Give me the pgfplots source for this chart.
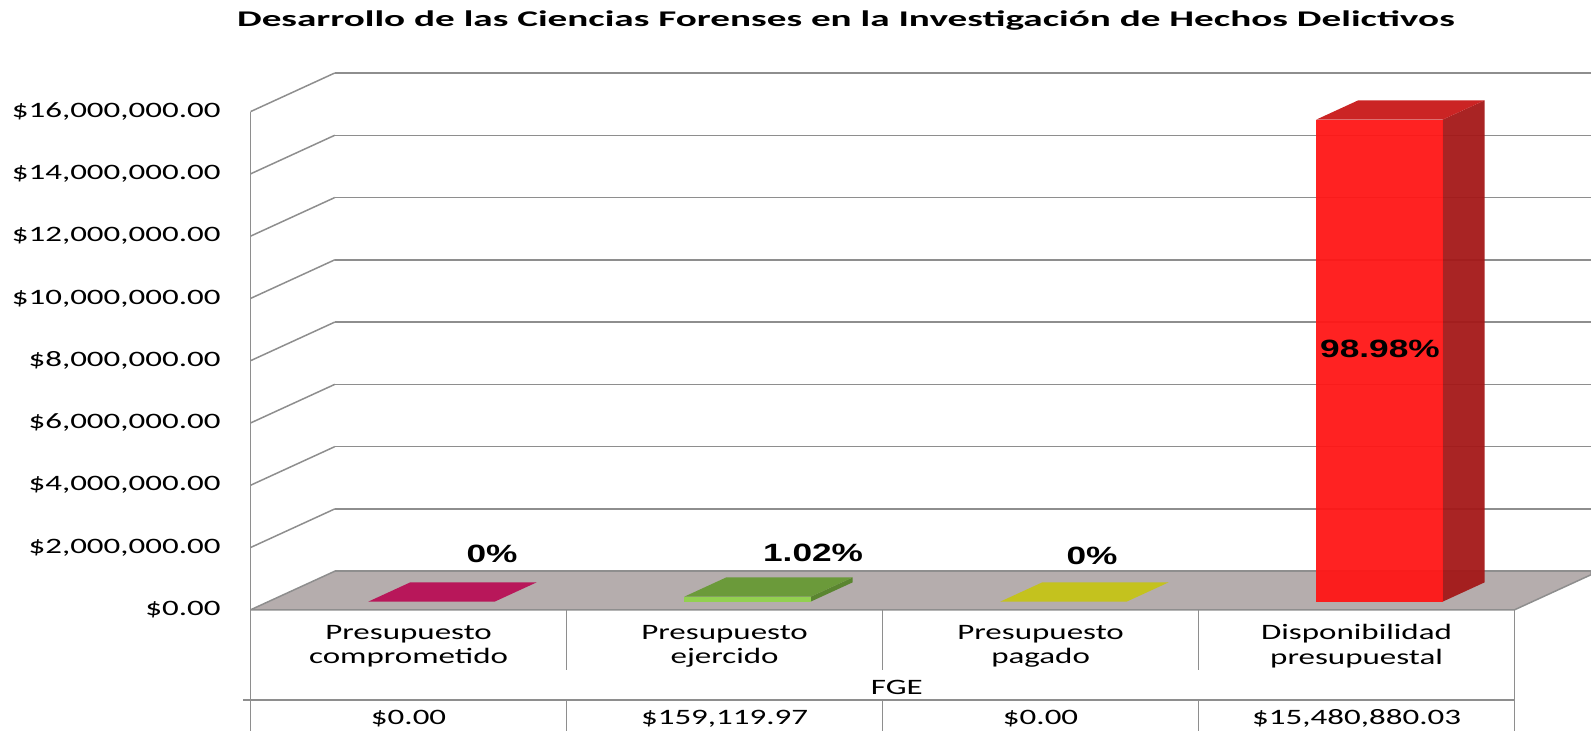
\documentclass[border=0pt]{standalone}
\usepackage{fontspec}
\usepackage{pgfplots}
\pgfplotsset{compat=1.18}
\setmainfont{Carlito}[FakeStretch=1.5]
\newfontfamily\titlefont{Carlito}[FakeStretch=1.75]
\newfontfamily\pctfont{Liberation Sans}[FakeStretch=1.41]
\definecolor{gridc}{HTML}{8E8E8E}
\definecolor{floorc}{HTML}{B5ADAD}
\definecolor{magc}{HTML}{B8175A}
\definecolor{yelc}{HTML}{C4C21E}
\definecolor{grnTop}{HTML}{6B9A3A}
\definecolor{grnFront}{HTML}{92D050}
\definecolor{grnSide}{HTML}{5A8530}
\definecolor{redFront}{HTML}{FF1616}
\definecolor{redSide}{HTML}{A41818}
\definecolor{redTop}{HTML}{C81818}
\begin{document}
\begin{tikzpicture}
\begin{axis}[
  scale only axis, width=632pt, height=249.1pt,
  xmin=0, xmax=4, ymin=0, ymax=16000000,
  clip=false,
  axis lines=left,
  axis line style={draw=none,-},
  xtick=\empty,
  ytick={0,2000000,4000000,6000000,8000000,10000000,12000000,14000000,16000000},
  yticklabels={{\$0.00},{\$2,000,000.00},{\$4,000,000.00},{\$6,000,000.00},{\$8,000,000.00},{\$10,000,000.00},{\$12,000,000.00},{\$14,000,000.00},{\$16,000,000.00}},
  scaled y ticks=false,
  major tick length=0pt,
  ytick style={draw=none},
  yticklabel style={anchor=east, inner sep=0pt, xshift=-14.8pt, font=\fontsize{11}{13}\selectfont},
]
% back wall grid lines
\addplot[gridc, line width=0.75pt] coordinates {(0.2665,1240000) (4.2418,1240000)};
\addplot[gridc, line width=0.75pt] coordinates {(0.2665,3240000) (4.2418,3240000)};
\addplot[gridc, line width=0.75pt] coordinates {(0.2665,5240000) (4.2418,5240000)};
\addplot[gridc, line width=0.75pt] coordinates {(0.2665,7240000) (4.2418,7240000)};
\addplot[gridc, line width=0.75pt] coordinates {(0.2665,9240000) (4.2418,9240000)};
\addplot[gridc, line width=0.75pt] coordinates {(0.2665,11240000) (4.2418,11240000)};
\addplot[gridc, line width=0.75pt] coordinates {(0.2665,13240000) (4.2418,13240000)};
\addplot[gridc, line width=0.75pt] coordinates {(0.2665,15240000) (4.2418,15240000)};
\addplot[gridc, line width=0.75pt] coordinates {(0.2665,17240000) (4.2418,17240000)};
% side wall lines
\addplot[gridc, line width=0.75pt] coordinates {(0,2000000) (0.2665,3240000)};
\addplot[gridc, line width=0.75pt] coordinates {(0,4000000) (0.2665,5240000)};
\addplot[gridc, line width=0.75pt] coordinates {(0,6000000) (0.2665,7240000)};
\addplot[gridc, line width=0.75pt] coordinates {(0,8000000) (0.2665,9240000)};
\addplot[gridc, line width=0.75pt] coordinates {(0,10000000) (0.2665,11240000)};
\addplot[gridc, line width=0.75pt] coordinates {(0,12000000) (0.2665,13240000)};
\addplot[gridc, line width=0.75pt] coordinates {(0,14000000) (0.2665,15240000)};
\addplot[gridc, line width=0.75pt] coordinates {(0,16000000) (0.2665,17240000)};
% floor
\addplot[fill=floorc, draw=gridc, line width=0.75pt] coordinates {(0,0) (4,0) (4.2418,1125000) (4.2418,1240000) (0.2665,1240000) (0,0)};
% bar 1: Presupuesto comprometido, 0
\addplot[fill=magc, draw=none] coordinates {(0.372,260000) (0.772,260000) (0.905,880000) (0.505,880000)};
% bar 2: Presupuesto ejercido, 159119.97
\addplot[fill=grnSide, draw=none] coordinates {(1.772,260000) (1.905,880000) (1.905,1039119.97) (1.772,419119.97)};
\addplot[fill=grnTop, draw=none] coordinates {(1.372,419119.97) (1.772,419119.97) (1.905,1039119.97) (1.505,1039119.97)};
\addplot[fill=grnFront, draw=none] coordinates {(1.372,260000) (1.772,260000) (1.772,419119.97) (1.372,419119.97)};
% bar 3: Presupuesto pagado, 0
\addplot[fill=yelc, draw=none] coordinates {(2.372,260000) (2.772,260000) (2.905,880000) (2.505,880000)};
% bar 4: Disponibilidad presupuestal, 15480880.03
\addplot[fill=redSide, draw=none, fill opacity=0.95] coordinates {(3.772,260000) (3.905,880000) (3.905,16360880.03) (3.772,15740880.03)};
\addplot[fill=redTop, draw=none, fill opacity=0.95] coordinates {(3.372,15740880.03) (3.772,15740880.03) (3.905,16360880.03) (3.505,16360880.03)};
\addplot[fill=redFront, draw=none, fill opacity=0.95] coordinates {(3.372,260000) (3.772,260000) (3.772,15740880.03) (3.372,15740880.03)};
% front y axis and table
\draw[gridc, line width=0.75pt] (axis cs:0,16000000) -- ([yshift=-62pt]axis cs:0,0);
\draw[gridc, line width=0.75pt] (axis cs:4,0) -- ([yshift=-62pt]axis cs:4,0);
\draw[gridc, line width=0.75pt] (axis cs:1,0) -- ([yshift=-30pt]axis cs:1,0);
\draw[gridc, line width=0.75pt] (axis cs:2,0) -- ([yshift=-30pt]axis cs:2,0);
\draw[gridc, line width=0.75pt] (axis cs:3,0) -- ([yshift=-30pt]axis cs:3,0);
\draw[gridc, line width=0.75pt] ([yshift=-45.1pt]axis cs:1,0) -- ([yshift=-62pt]axis cs:1,0);
\draw[gridc, line width=0.75pt] ([yshift=-45.1pt]axis cs:2,0) -- ([yshift=-62pt]axis cs:2,0);
\draw[gridc, line width=0.75pt] ([yshift=-45.1pt]axis cs:3,0) -- ([yshift=-62pt]axis cs:3,0);
\draw[gridc, line width=0.75pt] ([xshift=-3.6pt,yshift=-45.1pt]axis cs:0,0) -- ([yshift=-45.1pt]axis cs:4,0);
% labels
\begin{scope}[every node/.style={font=\fontsize{11}{12.25}\selectfont, inner sep=0pt, align=center}]
\node at ([yshift=-18.2pt]axis cs:0.5,0) {Presupuesto\\comprometido};
\node at ([yshift=-18.2pt]axis cs:1.5,0) {Presupuesto\\ejercido};
\node at ([yshift=-18.2pt]axis cs:2.5,0) {Presupuesto\\pagado};
\node at ([yshift=-18.2pt]axis cs:3.5,0) {Disponibilidad\\presupuestal};
\node at ([yshift=-38.6pt]axis cs:2.045,0) {FGE};
\node at ([yshift=-54.4pt]axis cs:0.5,0) {\$0.00};
\node at ([yshift=-54.4pt]axis cs:1.5,0) {\$159,119.97};
\node at ([yshift=-54.4pt]axis cs:2.5,0) {\$0.00};
\node at ([yshift=-54.4pt]axis cs:3.5,0) {\$15,480,880.03};
\end{scope}
\begin{scope}[every node/.style={font=\pctfont\bfseries\fontsize{12.5}{14}\selectfont, inner sep=0pt}]
\node at (axis cs:0.764,1790000) {0\%};
\node at (axis cs:1.78,1820000) {1.02\%};
\node at (axis cs:2.663,1730000) {0\%};
\node at (axis cs:3.574,8370000) {98.98\%};
\end{scope}
\node[font=\titlefont\bfseries\fontsize{11.2}{14}\selectfont, inner sep=0pt] at (axis cs:1.884,18940000) {Desarrollo de las Ciencias Forenses en la Investigación de Hechos Delictivos};
\end{axis}
\pgfresetboundingbox
\useasboundingbox (-125.3pt,-60.6pt) rectangle (670.2pt,304.9pt);
\end{tikzpicture}
\end{document}
